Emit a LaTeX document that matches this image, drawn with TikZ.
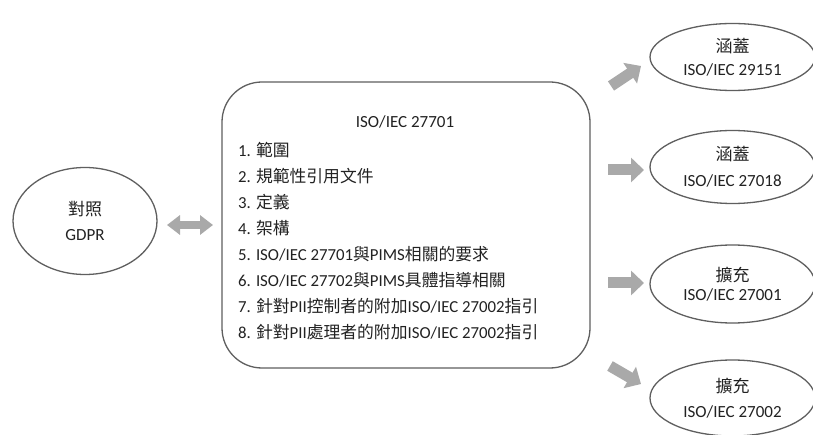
\documentclass[tikz,border=0pt]{standalone}
\usepackage{fontspec}
\setmainfont{Carlito}
\newfontfamily\cjk{Noto Sans CJK TC}
\usetikzlibrary{arrows.meta,shapes.geometric}
\definecolor{outl}{HTML}{5F5F5F}
\definecolor{arrgray}{HTML}{A9A9A9}
\definecolor{txt}{HTML}{222222}
\tikzset{
  oval/.style={ellipse, draw=outl, line width=1.3pt, inner sep=0pt, align=center,
    text=txt, font=\fontsize{17}{25}\selectfont},
  bigbox/.style={draw=outl, line width=1.3pt, rounded corners=40pt, inner sep=0pt},
  itemtext/.style={anchor=west, inner sep=0pt, text=txt, font=\fontsize{16.8}{20}\selectfont},
  blockarrow/.style={draw=arrgray, line width=11pt,
    -{Triangle[length=13pt,width=24pt]}},
  dblarrow/.style={draw=arrgray, line width=8pt,
    {Triangle[length=13pt,width=19pt]}-{Triangle[length=13pt,width=19pt]}}
}
\begin{document}
\begin{tikzpicture}[x=1pt,y=-1pt]
\useasboundingbox (0,0) rectangle (813,435);
\fill[white] (0,0) rectangle (813,435);

% left ellipse
\node[oval, minimum width=144pt, minimum height=107pt] (gdpr) at (85,221)
  {{\cjk 對照}\\GDPR};

% central box
\node[bigbox, minimum width=368pt, minimum height=286pt] (box) at (406,225) {};
\node[inner sep=0pt, text=txt, font=\fontsize{17}{20}\selectfont] (title) at (405,122) {ISO/IEC 27701};
\node[itemtext] (i1) at (238,150) {1. {\cjk 範圍}};
\node[itemtext] (i2) at (238,176) {2. {\cjk 規範性引用文件}};
\node[itemtext] (i3) at (238,202) {3. {\cjk 定義}};
\node[itemtext] (i4) at (238,228) {4. {\cjk 架構}};
\node[itemtext] (i5) at (238,254) {5. ISO/IEC 27701{\cjk 與}PIMS{\cjk 相關的要求}};
\node[itemtext] (i6) at (238,280) {6. ISO/IEC 27702{\cjk 與}PIMS{\cjk 具體指導相關}};
\node[itemtext] (i7) at (238,306) {7. {\cjk 針對}PII{\cjk 控制者的附加}ISO/IEC 27002{\cjk 指引}};
\node[itemtext] (i8) at (238,332) {8. {\cjk 針對}PII{\cjk 處理者的附加}ISO/IEC 27002{\cjk 指引}};

% right ellipses
\node[oval, minimum width=165pt, minimum height=67pt, font=\fontsize{17}{23}\selectfont] (e1) at (732.5,57)
  {{\cjk 涵蓋}\\ISO/IEC 29151};
\node[oval, minimum width=165pt, minimum height=73pt, font=\fontsize{17}{26}\selectfont] (e2) at (732.5,167)
  {{\cjk 涵蓋}\\ISO/IEC 27018};
\node[oval, minimum width=165pt, minimum height=78pt, font=\fontsize{17}{19}\selectfont] (e3) at (732.5,284)
  {{\cjk 擴充}\\ISO/IEC 27001};
\node[oval, minimum width=165pt, minimum height=76pt, font=\fontsize{17}{25}\selectfont] (e4) at (732.5,398)
  {{\cjk 擴充}\\ISO/IEC 27002};

% arrows
\coordinate (d1) at (167,225);
\coordinate (d2) at (213,225);
\draw[dblarrow] (d1) -- (d2);

\coordinate (a1s) at (611,86);
\coordinate (a1e) at (641,66);
\coordinate (a2s) at (608,170);
\coordinate (a2e) at (644,170);
\coordinate (a3s) at (608,283);
\coordinate (a3e) at (644,283);
\coordinate (a4s) at (610,366);
\coordinate (a4e) at (641,384);
\draw[blockarrow] (a1s) -- (a1e);
\draw[blockarrow] (a2s) -- (a2e);
\draw[blockarrow] (a3s) -- (a3e);
\draw[blockarrow] (a4s) -- (a4e);
\end{tikzpicture}
\end{document}
